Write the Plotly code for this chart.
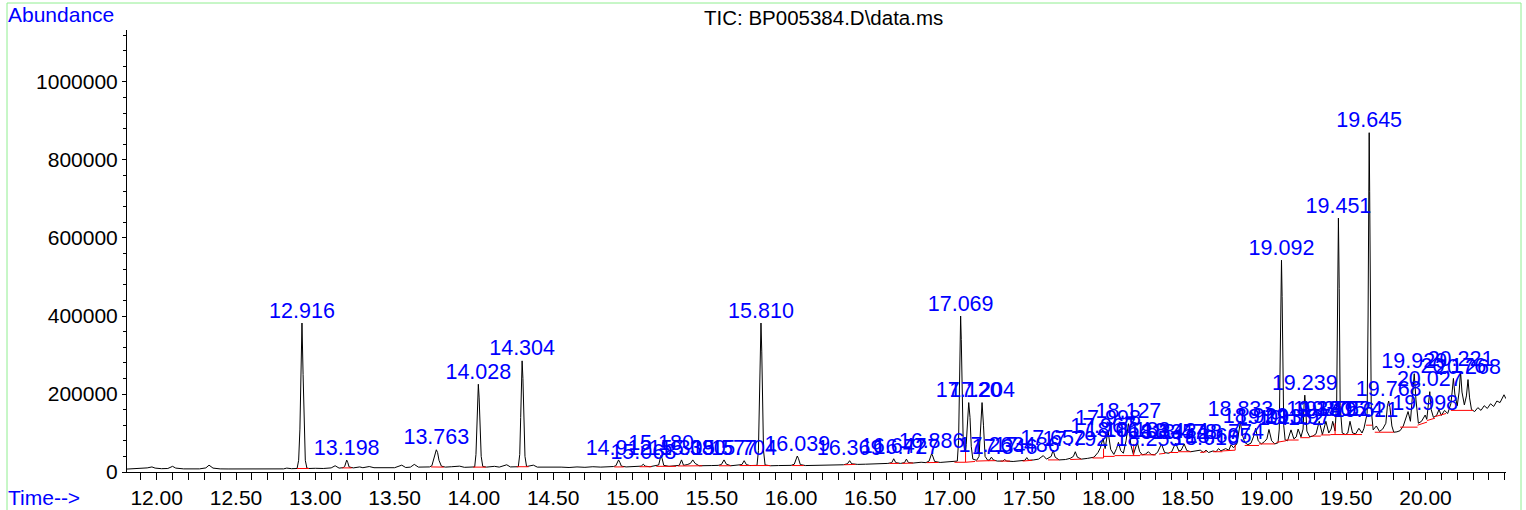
import plotly.graph_objects as go

# ---------------- data ----------------
tic_time = [
    11.812, 11.85, 11.90, 11.94, 11.97, 11.99, 12.03, 12.07, 12.10, 12.12,
    12.17, 12.22, 12.27, 12.31, 12.33, 12.355, 12.40, 12.45, 12.50, 12.55,
    12.60, 12.65, 12.70, 12.75, 12.80, 12.82, 12.85, 12.885, 12.895, 12.903,
    12.909, 12.916, 12.923, 12.929, 12.937, 12.947, 12.96, 13.00, 13.05, 13.10,
    13.125, 13.15, 13.175, 13.185, 13.192, 13.198, 13.205, 13.213, 13.24, 13.28,
    13.30, 13.34, 13.37, 13.42, 13.46, 13.50, 13.545, 13.57, 13.60, 13.624,
    13.65, 13.69, 13.72, 13.735, 13.748, 13.756, 13.763, 13.771, 13.78, 13.795,
    13.82, 13.86, 13.91, 13.94, 13.98, 14.005, 14.013, 14.019, 14.024, 14.028,
    14.033, 14.039, 14.046, 14.056, 14.08, 14.13, 14.16, 14.207, 14.23, 14.28,
    14.289, 14.295, 14.300, 14.304, 14.309, 14.315, 14.322, 14.332, 14.375, 14.40,
    14.45, 14.50, 14.55, 14.60, 14.65, 14.70, 14.75, 14.80, 14.85, 14.88,
    14.895, 14.905, 14.912, 14.92, 14.93, 14.96, 15.00, 15.04, 15.055, 15.068,
    15.08, 15.11, 15.14, 15.165, 15.175, 15.180, 15.187, 15.197, 15.23, 15.27,
    15.295, 15.309, 15.322, 15.345, 15.365, 15.38, 15.395, 15.42, 15.46, 15.50,
    15.54, 15.56, 15.577, 15.592, 15.62, 15.66, 15.69, 15.704, 15.718, 15.74,
    15.785, 15.794, 15.800, 15.805, 15.810, 15.815, 15.820, 15.826, 15.836, 15.87,
    15.92, 15.97, 16.00, 16.02, 16.032, 16.039, 16.047, 16.058, 16.09, 16.14,
    16.19, 16.24, 16.29, 16.33, 16.355, 16.369, 16.382, 16.42, 16.47, 16.52,
    16.57, 16.61, 16.635, 16.647, 16.66, 16.69, 16.715, 16.727, 16.74, 16.77,
    16.82, 16.85, 16.87, 16.88, 16.886, 16.893, 16.905, 16.94, 16.99, 17.03,
    17.048, 17.056, 17.062, 17.066, 17.069, 17.073, 17.078, 17.085, 17.093, 17.10,
    17.104, 17.112, 17.12, 17.128, 17.136, 17.146, 17.17, 17.185, 17.195, 17.204,
    17.213, 17.223, 17.24, 17.252, 17.263, 17.275, 17.30, 17.335, 17.346, 17.36,
    17.40, 17.45, 17.475, 17.486, 17.498, 17.53, 17.56, 17.59, 17.61, 17.64,
    17.652, 17.665, 17.69, 17.73, 17.76, 17.78, 17.792, 17.805, 17.83, 17.87,
    17.91, 17.935, 17.95, 17.967, 17.98, 17.998, 18.015, 18.035, 18.052, 18.064,
    18.078, 18.095, 18.112, 18.127, 18.142, 18.158, 18.172, 18.183, 18.198, 18.215,
    18.235, 18.253, 18.27, 18.29, 18.31, 18.335, 18.355, 18.38, 18.40, 18.424,
    18.445, 18.46, 18.478, 18.495, 18.52, 18.55, 18.58, 18.60, 18.616, 18.632,
    18.66, 18.68, 18.695, 18.71, 18.74, 18.76, 18.774, 18.79, 18.81, 18.824,
    18.833, 18.842, 18.86, 18.88, 18.90, 18.915, 18.929, 18.945, 18.965, 18.985,
    19.00, 19.013, 19.03, 19.05, 19.07, 19.078, 19.084, 19.088, 19.092, 19.096,
    19.100, 19.106, 19.115, 19.13, 19.152, 19.17, 19.185, 19.197, 19.215, 19.228,
    19.235, 19.239, 19.244, 19.252, 19.27, 19.29, 19.31, 19.330, 19.35, 19.372,
    19.39, 19.405, 19.415, 19.43, 19.440, 19.445, 19.451, 19.456, 19.462, 19.475,
    19.495, 19.51, 19.524, 19.54, 19.56, 19.58, 19.60, 19.612, 19.621, 19.632,
    19.638, 19.642, 19.645, 19.648, 19.652, 19.658, 19.67, 19.69, 19.71, 19.73,
    19.75, 19.76, 19.768, 19.776, 19.788, 19.80, 19.82, 19.84, 19.86, 19.875,
    19.89, 19.905, 19.918, 19.929, 19.94, 19.955, 19.975, 19.988, 19.998, 20.008,
    20.018, 20.027, 20.036, 20.05, 20.07, 20.085, 20.10, 20.12, 20.14, 20.16,
    20.168, 20.176, 20.185, 20.20, 20.212, 20.221, 20.23, 20.245, 20.258, 20.268,
    20.278, 20.29, 20.31, 20.33, 20.35, 20.37, 20.39, 20.41, 20.43, 20.45,
    20.47, 20.485, 20.495, 20.507,
]
tic_abundance = [
    7500, 8000, 8500, 10500, 13000, 10000, 8500, 9000, 14500, 10000,
    8000, 8500, 8000, 10500, 17500, 10000, 8000, 7800, 7700, 7900,
    7700, 8000, 7800, 8200, 8000, 10000, 8500, 9000, 30000, 110000,
    250000, 382000, 250000, 110000, 30000, 10000, 9000, 9500, 9000, 10500,
    16000, 10000, 11000, 14000, 24000, 30500, 24000, 13000, 10500, 13000,
    11000, 14000, 11000, 10500, 11500, 11000, 17500, 11500, 12500, 19500,
    12500, 12000, 13000, 16000, 35000, 52000, 57000, 50000, 30000, 15000,
    12500, 13500, 15000, 12000, 12500, 13000, 45000, 120000, 195000, 225000,
    190000, 110000, 40000, 14000, 12500, 14500, 12500, 18500, 13000, 13500,
    45000, 140000, 240000, 285000, 240000, 130000, 40000, 14000, 17500, 12500,
    13000, 12000, 12500, 11500, 13000, 12000, 13500, 12500, 13000, 14000,
    16000, 26000, 31000, 25000, 15000, 13000, 14000, 13500, 15000, 20000,
    15000, 13500, 15000, 18000, 35000, 43000, 34000, 17000, 14500, 15500,
    17000, 31000, 17000, 19000, 22000, 31000, 22000, 16000, 15500, 16500,
    17000, 19000, 31000, 20000, 16000, 17000, 19000, 29000, 19000, 16500,
    17000, 55000, 170000, 310000, 382000, 310000, 170000, 55000, 18000, 16000,
    16500, 16000, 17000, 20000, 35000, 41000, 34000, 19000, 16500, 17000,
    16500, 17500, 18000, 18500, 21000, 29000, 21000, 19500, 20000, 21000,
    20500, 22000, 24000, 34000, 24000, 22000, 24000, 33000, 24000, 23000,
    25000, 24000, 28000, 42000, 47000, 41000, 27000, 24500, 25500, 26000,
    28000, 80000, 240000, 350000, 400000, 340000, 200000, 80000, 60000, 52000,
    70000, 140000, 178000, 140000, 65000, 33000, 30000, 40000, 120000, 178000,
    120000, 40000, 30000, 31000, 38000, 31000, 28000, 28000, 32000, 28000,
    27000, 28000, 30000, 37000, 30000, 31000, 33000, 42000, 33000, 40000,
    56000, 38000, 31000, 32000, 35000, 40000, 52000, 38000, 33000, 35000,
    38000, 50000, 62000, 86000, 60000, 106000, 58000, 45000, 60000, 76000,
    55000, 48000, 80000, 124000, 70000, 45000, 60000, 76000, 52000, 44000,
    46000, 52000, 45000, 44000, 50000, 72000, 50000, 48000, 52000, 74000,
    54000, 56000, 72000, 55000, 52000, 54000, 56000, 50000, 56000, 50000,
    54000, 52000, 60000, 54000, 60000, 56000, 70000, 62000, 72000, 105000,
    130000, 100000, 76000, 70000, 74000, 90000, 112000, 80000, 72000, 78000,
    85000, 109000, 80000, 72000, 75000, 110000, 260000, 450000, 543000, 450000,
    260000, 120000, 82000, 80000, 108000, 85000, 90000, 110000, 90000, 110000,
    175000, 197000, 170000, 105000, 90000, 92000, 98000, 130000, 96000, 130000,
    100000, 110000, 130000, 105000, 180000, 470000, 651000, 470000, 170000, 100000,
    96000, 100000, 130000, 100000, 98000, 112000, 100000, 112000, 128000, 150000,
    400000, 720000, 870000, 720000, 400000, 160000, 108000, 118000, 104000, 110000,
    125000, 170000, 182000, 165000, 118000, 102000, 103000, 106000, 118000, 140000,
    155000, 130000, 190000, 252000, 185000, 125000, 130000, 140000, 146000, 135000,
    165000, 206000, 160000, 140000, 145000, 160000, 145000, 158000, 150000, 175000,
    205000, 240000, 200000, 170000, 205000, 258000, 205000, 172000, 195000, 237000,
    190000, 160000, 155000, 165000, 158000, 170000, 163000, 175000, 168000, 182000,
    178000, 192000, 198000, 188000,
]

# labelled peaks: retention time and apex abundance
peak_time = [
    12.916, 13.198, 13.763, 14.028, 14.304, 14.912, 15.068, 15.180, 15.309, 15.380,
    15.577, 15.704, 15.810, 16.039, 16.369, 16.647, 16.727, 16.886, 17.069, 17.120,
    17.204, 17.263, 17.346, 17.486, 17.652, 17.792, 17.967, 17.998, 18.064, 18.127,
    18.183, 18.253, 18.335, 18.424, 18.478, 18.616, 18.695, 18.774, 18.833, 18.929,
    19.013, 19.092, 19.152, 19.197, 19.239, 19.330, 19.372, 19.415, 19.451, 19.524,
    19.621, 19.645, 19.768, 19.929, 19.998, 20.027, 20.176, 20.221, 20.268,
]
peak_abundance = [
    382000, 30500, 57000, 225000, 285000, 31000, 20000, 43000, 31000, 31000,
    31000, 29000, 382000, 41000, 29000, 34000, 33000, 47000, 400000, 178000,
    178000, 38000, 32000, 37000, 56000, 52000, 86000, 106000, 76000, 124000,
    76000, 52000, 72000, 74000, 72000, 56000, 60000, 70000, 130000, 112000,
    109000, 543000, 108000, 110000, 197000, 130000, 130000, 130000, 651000, 130000,
    128000, 870000, 182000, 252000, 146000, 206000, 240000, 258000, 237000,
]

# integration baselines (red): start/end time and start/end abundance
base_t0 = [12.885, 13.17, 13.73, 13.995, 14.27, 14.885, 15.045, 15.15, 15.285, 15.33,
           15.545, 15.675, 15.745, 16.005, 16.335, 16.62, 16.70, 16.855, 17.03, 17.10,
           17.10, 17.165, 17.245, 17.32, 17.46, 17.62, 17.76, 17.90, 17.97, 17.97,
           18.04, 18.16, 18.20, 18.32, 18.38, 18.44, 18.58, 18.66, 18.72, 18.80,
           18.86, 18.95, 19.06, 19.12, 19.21, 19.28, 19.34, 19.40, 19.43, 19.48,
           19.625, 19.68, 19.84, 19.95, 20.01, 20.06, 20.16]
base_t1 = [12.96, 13.23, 13.81, 14.075, 14.345, 14.945, 15.12, 15.275, 15.33, 15.44,
           15.62, 15.745, 15.87, 16.08, 16.405, 16.68, 16.77, 16.93, 17.10, 17.10,
           17.16, 17.25, 17.29, 17.38, 17.52, 17.69, 17.83, 17.97, 17.97, 18.04,
           18.20, 18.16, 18.30, 18.36, 18.44, 18.52, 18.62, 18.72, 18.80, 18.80,
           18.95, 19.05, 19.12, 19.20, 19.27, 19.34, 19.40, 19.48, 19.43, 19.60,
           19.665, 19.80, 19.95, 20.01, 20.06, 20.13, 20.30]
base_a0 = [9000, 10500, 13000, 12500, 13500, 13000, 13500, 14500, 15500, 15500,
           16000, 16500, 16500, 16500, 18500, 22000, 22000, 24000, 25000, 25000,
           25000, 28000, 29000, 28000, 28000, 31000, 32000, 36000, 36000, 40000,
           42000, 42000, 44000, 46000, 50000, 52000, 50000, 52000, 54000, 56000,
           68000, 72000, 76000, 82000, 88000, 92000, 95000, 96000, 96000, 96000,
           120000, 102000, 115000, 120000, 132000, 142000, 158000]
base_a1 = [9000, 10500, 12500, 12500, 13500, 13000, 13500, 14500, 15500, 16000,
           16000, 16500, 16500, 16500, 19500, 22000, 23000, 24500, 25000, 52000,
           27000, 29000, 29000, 28000, 30000, 31000, 33000, 36000, 60000, 40000,
           42000, 72000, 44000, 48000, 50000, 52000, 52000, 52000, 56000, 72000,
           68000, 72000, 80000, 82000, 88000, 92000, 95000, 96000, 125000, 96000,
           120000, 102000, 115000, 128000, 138000, 150000, 158000]

x_ticks = [12.0, 12.5, 13.0, 13.5, 14.0, 14.5, 15.0, 15.5, 16.0, 16.5, 17.0, 17.5, 18.0, 18.5, 19.0, 19.5, 20.0]
y_ticks = [0, 200000, 400000, 600000, 800000, 1000000]

# ---------------- figure ----------------
FONT = "Liberation Sans, Arial, sans-serif"
BLUE = "#0000ff"

fig = go.Figure()

fig.add_trace(go.Scatter(x=tic_time, y=tic_abundance, mode="lines",
                         line=dict(color="black", width=1), hoverinfo="skip"))

bx, by = [], []
for t0, t1, a0, a1 in zip(base_t0, base_t1, base_a0, base_a1):
    bx += [t0, t1, None]
    by += [a0, a1, None]
fig.add_trace(go.Scatter(x=bx, y=by, mode="lines",
                         line=dict(color="#ff0000", width=1), hoverinfo="skip"))

fig.add_trace(go.Scatter(x=peak_time, y=peak_abundance, mode="text",
                         text=[f"{t:.3f}" for t in peak_time],
                         textposition="top center", cliponaxis=False,
                         textfont=dict(family=FONT, size=21.5, color=BLUE),
                         hoverinfo="skip"))

L, R, T, B = 127, 1506, 30, 472
W, H = 1526, 510
pw, ph = R - L, B - T

def px(x):
    return (x - L) / pw

def py(y):
    return (B - y) / ph

fig.update_layout(
    width=W, height=H,
    margin=dict(l=L, r=W - R, t=T, b=H - B, pad=0, autoexpand=False),
    plot_bgcolor="white", paper_bgcolor="white",
    showlegend=False,
    font=dict(family=FONT, size=21, color="black"),
    xaxis=dict(range=[11.8127, 20.5076], tickvals=x_ticks, tickformat=".2f",
               automargin=False,
               ticks="outside", ticklen=7, tickcolor="black", tickwidth=1,
               showline=True, linecolor="black", linewidth=1,
               showgrid=False, zeroline=False,
               tickfont=dict(family=FONT, size=21, color="black"),
               minor=dict(tick0=11.9, dtick=0.1, ticks="outside", ticklen=7,
                          tickcolor="black", showgrid=False)),
    yaxis=dict(range=[0, 1133300], tickvals=y_ticks, tickformat="d",
               automargin=False,
               ticks="outside", ticklen=4, tickcolor="black", tickwidth=1,
               showline=True, linecolor="black", linewidth=1,
               showgrid=False, zeroline=False,
               tickfont=dict(family=FONT, size=21, color="black"),
               minor=dict(tick0=0, dtick=40000, ticks="outside", ticklen=3,
                          tickcolor="black", showgrid=False)),
    shapes=[dict(type="rect", xref="paper", yref="paper",
                 x0=px(7), x1=px(1521), y0=py(520), y1=py(3),
                 line=dict(color="#90ee90", width=1), layer="below")],
    annotations=[
        dict(xref="paper", yref="paper", x=px(823.5), y=py(17), xanchor="center", yanchor="middle",
             text=r"TIC: BP005384.D\data.ms", showarrow=False,
             font=dict(family=FONT, size=20.5, color="black")),
        dict(xref="paper", yref="paper", x=px(6), y=py(15), xanchor="left", yanchor="middle",
             text="Abundance", showarrow=False,
             font=dict(family=FONT, size=21, color=BLUE)),
        dict(xref="paper", yref="paper", x=px(6), y=py(497), xanchor="left", yanchor="middle",
             text="Time-->", showarrow=False,
             font=dict(family=FONT, size=21, color=BLUE)),
    ],
)

fig.write_html(
    "out.html",
    config={"displayModeBar": False},
    post_script="document.body.style.margin='0px';document.body.style.padding='0px';"
                "document.body.style.overflow='hidden';",
)
